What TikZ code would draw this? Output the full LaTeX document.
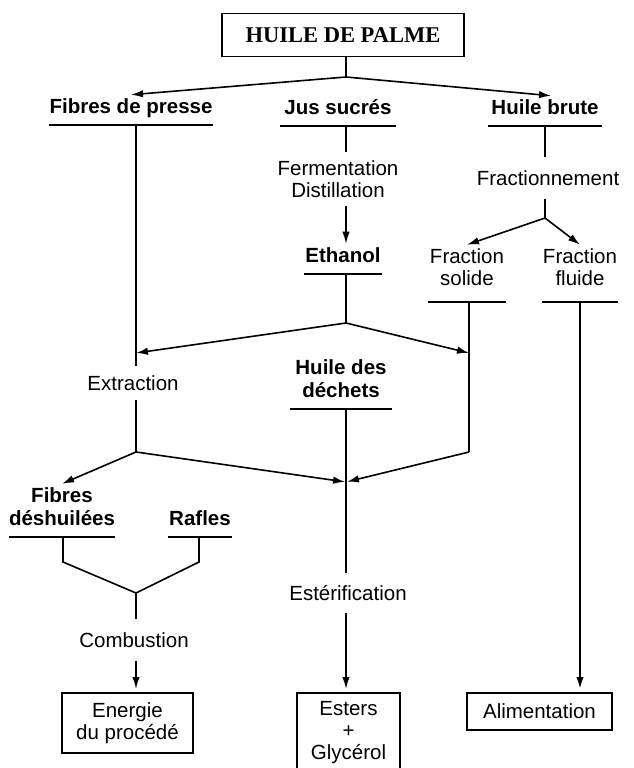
\documentclass[tikz,border=0pt]{standalone}
\usepackage{fontspec}
\setmainfont{Liberation Sans}
\newfontfamily\titlefont{Liberation Serif}
\usetikzlibrary{arrows.meta,calc}
\begin{document}
\begin{tikzpicture}[x=1pt,y=-1pt,
  every node/.style={inner sep=0pt},
  lw/.style={line width=1.6pt},
  arr/.style={lw,-{Latex[length=12pt,width=7.5pt]}},
  ubold/.style={font=\bfseries\fontsize{20.5}{23}\selectfont, align=center, anchor=south, inner ysep=4pt, text depth=7pt},
  ureg/.style={font=\fontsize{20.5}{22}\selectfont, align=center, anchor=south, inner ysep=4pt, text depth=12pt},
  rl/.style={font=\fontsize{20.5}{22}\selectfont, align=center, inner ysep=#1},
  rl/.default=8pt,
  uline/.style={line width=1.6pt},
  box/.style={draw, line width=2pt, align=center, font=\fontsize{20.5}{22}\selectfont},
]
\useasboundingbox (0,0) rectangle (634,768);
\clip (0,0) rectangle (634,768);

% title
\node[draw, line width=1.8pt, minimum width=242pt, minimum height=43pt,
      font=\titlefont\bfseries\fontsize{22.5}{26}\selectfont] (hp) at (343,35) {HUILE DE PALME};
\coordinate (j0) at (346,77);
\draw[lw] (hp.south -| j0) -- (j0);

% first row
\node[ubold, minimum width=164pt] (fib) at (131,125) {Fibres de presse};
\node[ubold, minimum width=116pt] (jus) at (338,126) {Jus sucrés};
\node[ubold, minimum width=114pt] (hb) at (545,126) {Huile brute};
\draw[uline] (fib.south west) -- (fib.south east);
\draw[uline] (jus.south west) -- (jus.south east);
\draw[uline] (hb.south west) -- (hb.south east);
\draw[arr] (j0) -- (fib.north);
\draw[arr] (j0) -- ($(hb.north)+(6,0)$);

% ethanol branch
\node[rl] (ferm) at (338,179) {Fermentation\\Distillation};
\draw[lw] (jus.south -| j0) -- (ferm.north -| j0);
\node[ubold, minimum width=77pt] (eth) at (343,274) {Ethanol};
\draw[uline] (eth.south west) -- (eth.south east);
\draw[arr] (ferm.south -| j0) -- (eth.north -| j0);
\coordinate (j1) at (346,323);
\draw[lw] (eth.south -| j0) -- (j1);

% huile brute branch
\node[rl=13pt] (frac) at (548,178) {Fractionnement};
\coordinate (j3) at (545,218);
\draw[lw] (hb.south -| j3) -- (frac.north -| j3);
\draw[lw] (frac.south -| j3) -- (j3);
\node[ureg, minimum width=77pt] (sol) at (467,302) {Fraction\\solide};
\node[ureg, minimum width=75pt] (flu) at (580,302) {Fraction\\fluide};
\draw[uline] (sol.south west) -- (sol.south east);
\draw[uline] (flu.south west) -- (flu.south east);
\draw[arr] (j3) -- (sol.north);
\draw[arr] (j3) -- (flu.north);

% extraction column
\coordinate (j2) at (136,452);
\coordinate (a1) at (136,353);
\coordinate (j4) at (469,452);
\coordinate (a2) at (469,353);
\coordinate (m) at (346,482);
\node[rl=9pt] (ext) at (133,383) {Extraction};
\draw[lw] (fib.south -| j2) -- (ext.north -| j2);
\draw[lw] (ext.south -| j2) -- (j2);
\draw[lw] (sol.south -| j4) -- (j4);
\draw[arr] (j1) -- (a1);
\draw[arr] (j1) -- (a2);

% huile des dechets
\node[ubold, minimum width=101pt] (hd) at (341,409) {Huile des\\déchets};
\draw[uline] (hd.south west) -- (hd.south east);
\node[rl=12pt] (est) at (348,593) {Estérification};
\draw[lw] (hd.south -| j0) -- (est.north -| j0);
\draw[arr, shorten >=1pt] (j2) -- (m);
\draw[arr, shorten >=1pt] (j4) -- (m);

% fibres deshuilees / rafles
\node[ubold, minimum width=104pt] (fd) at (62,537) {Fibres\\déshuilées};
\node[ubold, minimum width=63pt] (raf) at (200,537) {Rafles};
\draw[uline] (fd.south west) -- (fd.south east);
\draw[uline] (raf.south west) -- (raf.south east);
\draw[arr] (j2) -- (fd.north);
\coordinate (k1) at (63,562);
\coordinate (k2) at (199,562);
\coordinate (j5) at (136,593);
\draw[lw] (fd.south -| k1) -- (k1) -- (j5) -- (k2) -- (raf.south -| k2);
\node[rl=13pt] (comb) at (134,640) {Combustion};
\draw[lw] (j5) -- (comb.north -| j5);

% output boxes
\node[box, minimum width=131pt, minimum height=60pt] (en) at (127.5,723) {Energie\\du procédé};
\node[box, minimum width=103pt, minimum height=79pt] (es) at (348.5,732.5) {Esters\\+\\Glycérol};
\node[box, minimum width=145pt, minimum height=37pt] (ali) at (539.5,711.5) {Alimentation};
\draw[arr, shorten >=3pt] (comb.south -| j5) -- (en.north -| j5);
\draw[arr, shorten >=3pt] (est.south -| j0) -- (es.north -| j0);
\draw[arr, line width=2pt, shorten >=3pt] (flu.south) -- (ali.north -| flu.south);
\end{tikzpicture}
\end{document}
